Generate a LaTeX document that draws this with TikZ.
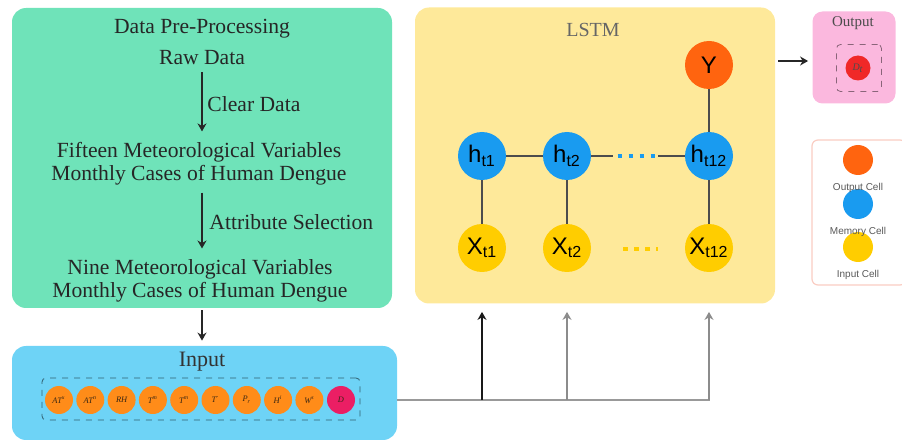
\documentclass[tikz,border=0pt]{standalone}
\usepackage{fontspec}
\setmainfont{Liberation Serif}
\setsansfont{Liberation Sans}
\usetikzlibrary{arrows.meta,positioning}

\definecolor{prepgreen}{RGB}{111,227,185}
\definecolor{inblue}{RGB}{110,211,246}
\definecolor{lstmyellow}{RGB}{254,233,154}
\definecolor{outpink}{RGB}{251,184,222}
\definecolor{cellorange}{RGB}{255,100,15}
\definecolor{cellblue}{RGB}{25,155,240}
\definecolor{cellyellow}{RGB}{255,205,0}
\definecolor{varorange}{RGB}{255,140,25}
\definecolor{targetpink}{RGB}{235,30,100}
\definecolor{predred}{RGB}{240,40,40}
\definecolor{legendline}{RGB}{250,205,195}

\tikzset{
  panel/.style={rounded corners=7pt, inner sep=0pt},
  prose/.style={font=\fontsize{10.8}{11.6}\selectfont, text=black!85, align=center},
  arr/.style={draw=black!85, line width=0.8pt, -{Stealth[length=4pt,width=4.5pt]}},
  link/.style={draw=black!70, line width=1pt},
  cell/.style={circle, minimum size=24pt, inner sep=0pt, font=\sffamily\fontsize{12}{12}\selectfont},
  varcell/.style={circle, fill=varorange, minimum size=14pt, inner sep=0pt, text=black!70!brown, font=\itshape\fontsize{4.2}{4.5}\selectfont},
  legcell/.style={circle, minimum size=15pt, inner sep=0pt},
  legtext/.style={font=\sffamily\fontsize{5}{5}\selectfont, text=black!65},
}

\begin{document}
\begin{tikzpicture}[x=0.5pt,y=-0.5pt]
  \useasboundingbox (0,0) rectangle (902,444);

  % panels
  \node[panel, fill=prepgreen, minimum width=190pt, minimum height=150pt] (prep) at (202,158) {};
  \node[panel, fill=inblue, minimum width=192.5pt, minimum height=47pt] (input) at (204.5,393) {};
  \node[panel, fill=lstmyellow, minimum width=180pt, minimum height=148pt] (lstm) at (595,155.5) {};
  \node[panel, fill=outpink, rounded corners=5pt, minimum width=41.5pt, minimum height=46pt] (output) at (854,57.5) {};
  \node[panel, fill=white, draw=legendline, line width=0.6pt, rounded corners=3pt, minimum width=47pt, minimum height=72.5pt] (legend) at (859,212.5) {};

  % data pre-processing
  \node[prose] (title) at (202,29) {Data Pre-Processing};
  \node[prose] (raw) at (202,58) {Raw Data};
  \node[prose] (fifteen) at (199,164) {Fifteen Meteorological Variables\\Monthly Cases of Human Dengue};
  \node[prose] (nine) at (200,281) {Nine Meteorological Variables\\Monthly Cases of Human Dengue};
  \draw[arr, shorten >=2pt] (raw) -- node[prose, right=-1pt] (clear) {Clear Data} (raw |- fifteen.north);
  \draw[arr, shorten >=2pt] (raw |- fifteen.south) -- node[prose, right=0pt] (attr) {Attribute Selection} (raw |- nine.north);
  \draw[arr, shorten <=1pt, shorten >=2.5pt] (prep.south) -- (prep.south |- input.north);

  % input
  \node[prose, font=\fontsize{11}{12}\selectfont, text=black!80] (intitle) at (202,362) {Input};
  \node[draw=black!55!inblue, dashed, rounded corners=2pt, minimum width=159pt, minimum height=21pt] (varbox) at (201,399) {};
  \foreach \lab [count=\i] in {AT\textsuperscript{x},AT\textsuperscript{n},RH,T\textsuperscript{m},T\textsuperscript{m},T\textsuperscript{-},P\textsubscript{r},H\textsuperscript{i},W\textsuperscript{s}}{
    \node[varcell] (v\i) at ({59+31.3*(\i-1)},400) {\lab};
  }
  \node[varcell, fill=targetpink] (v10) at (341,400) {D};

  % lstm
  \node[font=\fontsize{10}{10}\selectfont, text=black!60] (lstmtitle) at (593,30) {LSTM};
  \node[cell, fill=cellorange] (yout) at (709,65) {Y};
  \node[cell, fill=cellblue] (ht1) at (482,156) {h\textsubscript{t1}};
  \node[cell, fill=cellblue] (ht2) at (567,156) {h\textsubscript{t2}};
  \node[cell, fill=cellblue] (ht12) at (709,156) {h\textsubscript{t12}};
  \node[cell, fill=cellyellow] (xt1) at (482,248) {X\textsubscript{t1}};
  \node[cell, fill=cellyellow] (xt2) at (567,248) {X\textsubscript{t2}};
  \node[cell, fill=cellyellow] (xt12) at (709,248) {X\textsubscript{t12}};
  \node[inner sep=0pt, minimum width=22.5pt, minimum height=3pt] (hdots) at (635.5,156) {};
  \node[inner sep=0pt, minimum width=22.5pt, minimum height=3pt] (xdots) at (638,249) {};
  \draw[cellblue, line width=2.2pt, dash pattern=on 2.2pt off 3.3pt] ([xshift=2.5pt]hdots.west) -- ([xshift=-1.5pt]hdots.east);
  \draw[cellyellow, line width=2.2pt, dash pattern=on 2.2pt off 3.3pt] ([xshift=4pt]xdots.west) -- ([xshift=-1.5pt]xdots.east);
  \draw[link] (ht1) -- (ht2);
  \draw[link] (ht2) -- (hdots.west);
  \draw[link] (hdots.east) -- (ht12);
  \draw[link] (ht1) -- (xt1);
  \draw[link] (ht2) -- (xt2);
  \draw[link] (ht12) -- (xt12);
  \draw[link] (yout) -- (ht12);

  % bus from input to lstm
  \coordinate (busend) at (710,400);
  \draw[draw=black!40, line width=0.8pt] (input.east |- busend) -- (busend);
  \foreach \c/\col in {xt1/black!90, xt2/black!45, xt12/black!45}{
    \draw[arr, draw=\col] (\c |- busend) -- ([yshift=-4pt]\c |- lstm.south);
  }

  % output
  \draw[arr, shorten <=1.5pt, shorten >=2pt] (lstm.east |- 0,61) -- (output.west |- 0,61);
  \node[font=\fontsize{7.5}{8}\selectfont, text=black!70] (outtitle) at (853,23) {Output};
  \node[draw=black!45!outpink, dashed, rounded corners=2pt, minimum width=22.5pt, minimum height=23.5pt] (outbox) at (859,68) {};
  \node[circle, fill=predred, minimum size=12.5pt, inner sep=0pt, text=black!70, font=\itshape\fontsize{5}{5}\selectfont] (pred) at (858,68) {D\textsubscript{t}};

  % legend
  \node[legcell, fill=cellorange] (lc1) at (858,160) {};
  \node[legcell, fill=cellblue] (lc2) at (858,204) {};
  \node[legcell, fill=cellyellow] (lc3) at (858,247) {};
  \node[legtext, below=0.5pt of lc1] (lt1) {Output Cell};
  \node[legtext, below=0.5pt of lc2] (lt2) {Memory Cell};
  \node[legtext, below=0.5pt of lc3] (lt3) {Input Cell};
\end{tikzpicture}
\end{document}
